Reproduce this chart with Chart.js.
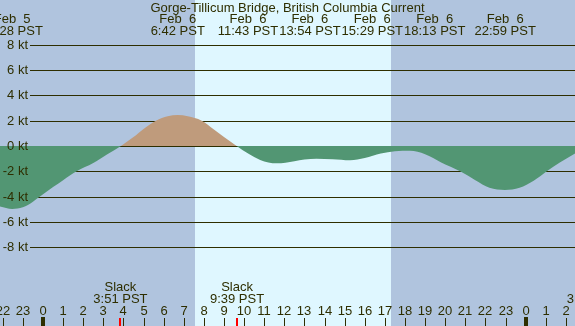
<!DOCTYPE html>
<html>
<head>
<meta charset="utf-8">
<script src="https://cdn.jsdelivr.net/npm/chart.js@4/dist/chart.umd.min.js"></script>
<style>
  body { margin: 0; background: #b0c4de; }
  canvas { display: block; }
</style>
</head>
<body>
<canvas id="currentChart" width="575" height="326"></canvas>
<script>
// hours since midnight Feb 6 (negative = Feb 5), current in knots
const hours  = [-2.2, -1.53, -1.0, -0.5, -0.15, 0.5, 1.0, 1.67, 2.5, 3.2, 3.88, 4.5, 5.0, 5.62, 6.2, 6.7, 7.2, 7.89, 8.5, 9.0, 9.63,
                10.2, 10.8, 11.62, 12.5, 13.0, 13.6, 14.4, 15.27, 16.0, 16.8, 17.5, 18.25, 19.0, 19.8, 20.74, 21.5, 22.2, 22.97,
                23.7, 24.4, 25.05, 25.7, 26.5];
const speeds = [-4.75, -4.97, -4.85, -4.4, -4.0, -3.25, -2.7, -2.0, -1.35, -0.65, 0, 0.7, 1.35, 2.0, 2.35, 2.45, 2.35, 2.0, 1.3, 0.7, 0,
                -0.6, -1.1, -1.37, -1.2, -1.07, -1.0, -1.05, -1.13, -0.95, -0.6, -0.42, -0.38, -0.65, -1.3, -2.0, -2.7, -3.3, -3.47,
                -3.3, -2.75, -2.0, -1.3, -0.55];

const yTicks = [8, 6, 4, 2, 0, -2, -4, -6, -8];
const hourTicks = [-2, -1, 0, 1, 2, 3, 4, 5, 6, 7, 8, 9, 10, 11, 12, 13, 14, 15, 16, 17, 18, 19, 20, 21, 22, 23, 24, 25, 26, 27];

// max/min current events shown along the top
const eventHours = [-1.533, 6.7, 11.717, 13.9, 15.483, 18.217, 22.983];
const eventDates = ['Feb  5', 'Feb  6', 'Feb  6', 'Feb  6', 'Feb  6', 'Feb  6', 'Feb  6'];
const eventTimes = ['22:28 PST', '6:42 PST', '11:43 PST', '13:54 PST', '15:29 PST', '18:13 PST', '22:59 PST'];

const slackHours = [3.85, 9.65];
const slackTimes = ['3:51 PST', '9:39 PST'];

const sunrise = 7.55;
const sunset = 17.3;

const title = 'Gorge-Tillicum Bridge, British Columbia Current';

const ink = '#2e2e00';
const font = '13px "Liberation Sans", Arial, sans-serif';

// push overlapping labels apart, keeping each group centred on its wanted spots
function spread(wanted, widths) {
  let groups = [];
  wanted.forEach((c, i) => {
    groups.push({ items: [i], width: widths[i], centre: c });
    while (groups.length > 1) {
      const b = groups[groups.length - 1], a = groups[groups.length - 2];
      if (a.centre + a.width / 2 <= b.centre - b.width / 2) break;
      const items = a.items.concat(b.items);
      let off = 0, sum = 0, offs = [];
      items.forEach(k => { offs.push(off + widths[k] / 2); off += widths[k]; });
      items.forEach((k, j) => { sum += wanted[k] - offs[j]; });
      const start = sum / items.length;
      groups.splice(groups.length - 2, 2, { items, width: off, centre: start + off / 2 });
    }
  });
  const out = [];
  groups.forEach(g => {
    let x = g.centre - g.width / 2;
    g.items.forEach(k => { out[k] = x + widths[k] / 2; x += widths[k]; });
  });
  return out;
}

const decor = {
  id: 'decor',
  beforeDatasetsDraw(chart) {
    const { ctx, scales: { x, y }, width, height } = chart;
    ctx.save();
    // night / day background
    ctx.fillStyle = '#b0c4de';
    ctx.fillRect(0, 0, width, height);
    ctx.fillStyle = '#dff7ff';
    const x1 = Math.round(x.getPixelForValue(sunrise)), x2 = Math.round(x.getPixelForValue(sunset));
    ctx.fillRect(x1, 0, x2 - x1, height);

    // speed lines (the fill goes over them)
    ctx.fillStyle = ink;
    yTicks.forEach(v => {
      const py = Math.round(y.getPixelForValue(v));
      ctx.fillRect(30, py, width - 30, 1);
    });
    ctx.restore();
  },
  afterDraw(chart) {
    const { ctx, scales: { x, y }, width, height } = chart;
    ctx.save();
    ctx.font = font;
    ctx.fillStyle = ink;
    ctx.textBaseline = 'middle';

    ctx.textAlign = 'right';
    yTicks.forEach(v => {
      ctx.fillText(v + ' kt', 28, Math.round(y.getPixelForValue(v)) + 0.5);
    });

    ctx.textAlign = 'center';
    ctx.fillText(title, width / 2, 8);

    const widths = eventTimes.map((t, i) => Math.max(ctx.measureText(t).width, ctx.measureText(eventDates[i]).width) + 1);
    const spots = spread(eventHours.map(h => x.getPixelForValue(h)), widths);
    spots.forEach((px, i) => {
      ctx.fillText(eventDates[i], px, 19);
      ctx.fillText(eventTimes[i], px, 31);
    });

    slackHours.forEach((h, i) => {
      const px = x.getPixelForValue(h);
      ctx.fillText('Slack', px, 287);
      ctx.fillText(slackTimes[i], px, 299);
      ctx.fillStyle = '#ff0000';
      ctx.fillRect(Math.round(px) - 1, 318, 2, height - 318);
      ctx.fillStyle = ink;
    });

    hourTicks.forEach(h => {
      const px = Math.round(x.getPixelForValue(h));
      const label = String(((h % 24) + 24) % 24);
      const w = ctx.measureText(label).width;
      if (px + w / 2 > width) {
        ctx.fillText(label, width - w / 2 - 1, 299);
      } else {
        ctx.fillText(label, px, 311);
      }
      if (h % 24 === 0) ctx.fillRect(px - 2, 317, 4, height - 317);
      else ctx.fillRect(px, 318, 1, height - 318);
    });
    ctx.restore();
  }
};

new Chart(document.querySelector('#currentChart').getContext('2d'), {
  type: 'line',
  data: {
    datasets: [{
      data: hours.map((h, i) => ({ x: h, y: speeds[i] })),
      borderColor: 'transparent',
      borderWidth: 0,
      pointRadius: 0,
      cubicInterpolationMode: 'monotone',
      fill: { target: 'origin', above: '#bf9b7c', below: '#529673' }
    }]
  },
  options: {
    responsive: false,
    animation: false,
    layout: { padding: 0 },
    plugins: { legend: { display: false }, tooltip: { enabled: false } },
    scales: {
      x: { type: 'linear', display: false, min: -2.138, max: 26.455 },
      y: { display: false, min: -14.22, max: 11.53 }
    }
  },
  plugins: [decor]
});
</script>
</body>
</html>
